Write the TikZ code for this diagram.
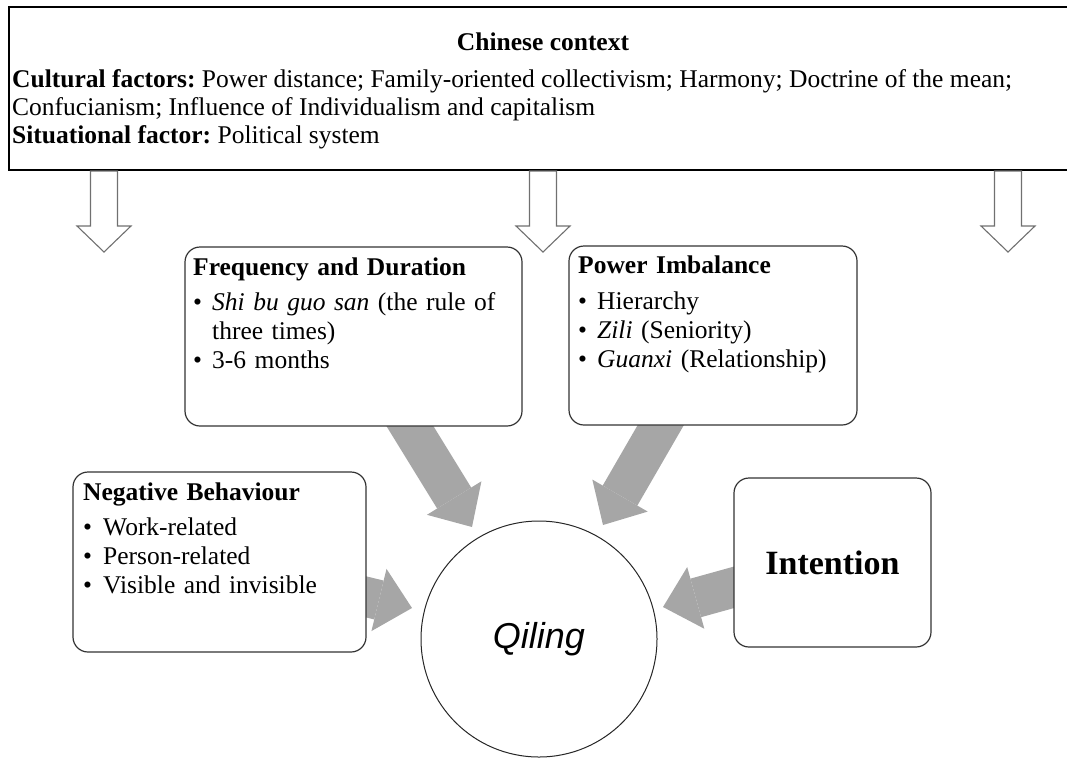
\documentclass[tikz,border=0pt]{standalone}
\usepackage{fontspec}
\setmainfont{Liberation Serif}
\setsansfont{Liberation Sans}
\usetikzlibrary{arrows.meta}

\definecolor{arrowgray}{RGB}{166,166,166}
\definecolor{hollowline}{RGB}{112,112,112}

% bullet line with a hanging indent
\newcommand{\bulitem}[2][19pt]{\par\hangindent=#1\hangafter=1\noindent\makebox[#1][l]{\textbullet}#2}

\frenchspacing

\begin{document}
\begin{tikzpicture}[x=1pt,y=-1pt,
  ctxbox/.style={draw=black, line width=1.3pt, fill=white, inner sep=0pt},
  roundbox/.style={draw=black!80, line width=1.2pt, rounded corners=15pt, fill=white, inner sep=0pt},
  bodytext/.style={anchor=north west, inner sep=0pt, align=left,
    font=\fontsize{25.5}{29}\selectfont},
  linetext/.style={anchor=base west, inner sep=0pt, font=\fontsize{25.5}{29}\selectfont},
  hollow/.style={draw=hollowline, line width=1.1pt, fill=white, line join=miter},
  fatarrow/.style={draw=arrowgray, line width=40pt,
    -{Triangle[width=64pt 0 0, length=34pt 0 0, line width=0pt 0 0]}},
  downarrow/.pic={\path[hollow] (-13.5,0) -- (-13.5,55) -- (-27,55) -- (0,81)
      -- (27,55) -- (13.5,55) -- (13.5,0) -- cycle;},
]
\useasboundingbox (0,0) rectangle (1067,758);

% context box with its three hollow arrows
\node[ctxbox, minimum width=1071pt, minimum height=163pt] (ctx) at (544.5,88.5) {};
\node[anchor=base, inner sep=0pt, font=\fontsize{25.5}{29}\selectfont\bfseries]
  (ctxtitle) at (543,50) {Chinese context};
\node[linetext] (ctxl1) at (12,87)
  {\textbf{Cultural factors:} Power distance; Family-oriented collectivism; Harmony; Doctrine of the mean;};
\node[linetext] (ctxl2) at (12,115)
  {Confucianism; Influence of Individualism and capitalism};
\node[linetext] (ctxl3) at (12,143)
  {\textbf{Situational factor:} Political system};

\pic (ha) at (104,171) {downarrow};
\pic (hb) at (543,171) {downarrow};
\pic (hc) at (1008,171) {downarrow};

% thick grey arrows towards the centre
\coordinate (fs) at (400,410);  \coordinate (ft) at (472,527);
\coordinate (ps) at (669.5,410); \coordinate (pt) at (603,525);
\coordinate (ns) at (346,592);  \coordinate (nt) at (412,608);
\coordinate (is) at (753,582);  \coordinate (it) at (663,607);
\draw[fatarrow] (fs) -- (ft);
\draw[fatarrow] (ps) -- (pt);
\draw[fatarrow] (ns) -- (nt);
\draw[fatarrow] (is) -- (it);

% factor boxes
\node[roundbox, minimum width=337pt, minimum height=179pt] (freq) at (353.5,336.5) {};
\node[bodytext, text width=320pt] (freqtext) at (193,254.7)
  {\strut\textbf{Frequency and Duration}\par\vspace{6pt}%
   \bulitem{\textit{Shi bu guo san} (the rule of\newline three times)}%
   \bulitem{3-6 months}};

\node[roundbox, minimum width=288pt, minimum height=179pt] (power) at (713,335.5) {};
\node[bodytext, text width=270pt] (powertext) at (578,252.7)
  {\strut\textbf{Power Imbalance}\par\vspace{7pt}%
   \bulitem{Hierarchy}%
   \bulitem{\textit{Zili} (Seniority)}%
   \bulitem{\textit{Guanxi} (Relationship)}};

\node[roundbox, minimum width=293pt, minimum height=180pt] (neg) at (219.5,562) {};
\node[bodytext, text width=275pt] (negtext) at (83,479.7)
  {\strut\textbf{Negative Behaviour}\par\vspace{6pt}%
   \bulitem[20pt]{Work-related}%
   \bulitem[20pt]{Person-related}%
   \bulitem[20pt]{Visible and invisible}};

\node[roundbox, minimum width=197pt, minimum height=169pt,
  font=\fontsize{34}{40}\selectfont\bfseries] (intent) at (832.5,562.5) {Intention};

% central concept
\node[circle, draw=black!85, line width=1pt, fill=white, minimum size=236pt, inner sep=0pt,
  font=\sffamily\itshape\fontsize{36}{40}\selectfont] (qiling) at (539,639) {Qiling};
\end{tikzpicture}
\end{document}
